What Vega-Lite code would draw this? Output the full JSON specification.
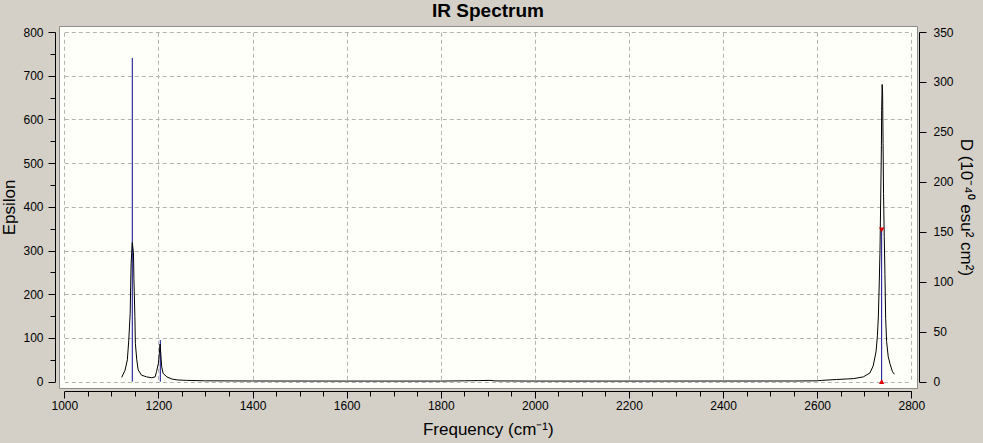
{
  "$schema": "https://vega.github.io/schema/vega-lite/v6.json",
  "width": 858,
  "height": 362,
  "autosize": "none",
  "padding": {"left": 59, "top": 26, "right": 66, "bottom": 55},
  "background": "#d4d0c8",
  "title": {"text": "IR Spectrum", "font": "Liberation Sans", "fontSize": 19, "fontWeight": "bold", "color": "#000000", "anchor": "middle", "offset": 5.5},
  "config": {
    "view": {"fill": "#fffffa", "stroke": "#8c8c8c", "strokeWidth": 1},
    "axis": {
      "labelFont": "Liberation Sans", "labelFontSize": 12, "labelColor": "#000000",
      "titleFont": "Liberation Sans", "titleFontSize": 17, "titleFontWeight": "normal", "titleColor": "#000000",
      "domainColor": "#000000", "tickColor": "#000000", "domainWidth": 1, "tickWidth": 1,
      "gridColor": "#b4b4b4", "gridDash": [4, 3], "gridWidth": 1
    }
  },
  "encoding": {
    "x": {
      "field": "f", "type": "quantitative",
      "scale": {"domain": [1000, 2800], "range": [5.3, 852.3], "nice": false, "zero": false},
      "axis": {
        "title": "Frequency (cm⁻¹)", "offset": 3, "grid": true,
        "values": [1000,1050,1100,1150,1200,1250,1300,1350,1400,1450,1500,1550,1600,1650,1700,1750,1800,1850,1900,1950,2000,2050,2100,2150,2200,2250,2300,2350,2400,2450,2500,2550,2600,2650,2700,2750,2800],
        "format": "d",
        "labelExpr": "datum.value % 200 === 0 ? datum.label : ''",
        "tickSize": {"condition": {"test": "datum.value % 200 === 0", "value": 7}, "value": 5},
        "gridOpacity": {"condition": {"test": "datum.value % 200 === 0", "value": 1}, "value": 0},
        "labelPadding": 2, "titlePadding": 10, "labelFlush": false, "labelOverlap": false
      }
    }
  },
  "layer": [
    {
      "data": {"values": [
        {"f": 1144.5, "D": 324},
        {"f": 1204, "D": 41.7},
        {"f": 2737, "D": 152}
      ]},
      "mark": {"type": "rule", "color": "#0a0a90", "strokeWidth": 1},
      "encoding": {
        "y": {
          "field": "D", "type": "quantitative",
          "scale": {"domain": [0, 350], "range": [355.7, 6], "nice": false},
          "axis": {
            "orient": "right", "title": "D (10⁻⁴⁰ esu² cm²)", "offset": 2, "grid": false,
            "values": [0, 50, 100, 150, 200, 250, 300, 350], "tickSize": 7, "labelPadding": 7, "titlePadding": 3, "labelFlush": false, "labelOverlap": false
          }
        },
        "y2": {"datum": 0}
      }
    },
    {
      "data": {"values": [
        {"f": 1122, "eps": 10}, {"f": 1129, "eps": 26}, {"f": 1134, "eps": 50}, {"f": 1137, "eps": 95},
        {"f": 1140, "eps": 157}, {"f": 1141, "eps": 217}, {"f": 1142, "eps": 271}, {"f": 1144.5, "eps": 318},
        {"f": 1147, "eps": 295}, {"f": 1148, "eps": 233}, {"f": 1150, "eps": 149}, {"f": 1151, "eps": 88},
        {"f": 1154, "eps": 50}, {"f": 1157, "eps": 27}, {"f": 1164, "eps": 15}, {"f": 1175, "eps": 11},
        {"f": 1186, "eps": 9}, {"f": 1193, "eps": 11}, {"f": 1196, "eps": 23}, {"f": 1200, "eps": 42},
        {"f": 1202, "eps": 65}, {"f": 1203.5, "eps": 86}, {"f": 1205, "eps": 65}, {"f": 1207, "eps": 34},
        {"f": 1210, "eps": 19}, {"f": 1218, "eps": 11}, {"f": 1229, "eps": 6}, {"f": 1240, "eps": 4},
        {"f": 1260, "eps": 3}, {"f": 1300, "eps": 2}, {"f": 1400, "eps": 1.6}, {"f": 1600, "eps": 1.4},
        {"f": 1800, "eps": 1.4}, {"f": 1850, "eps": 2}, {"f": 1880, "eps": 2.5}, {"f": 1905, "eps": 3},
        {"f": 1915, "eps": 1.8}, {"f": 2000, "eps": 1.4}, {"f": 2200, "eps": 1.4}, {"f": 2400, "eps": 1.5},
        {"f": 2550, "eps": 1.6}, {"f": 2600, "eps": 2}, {"f": 2610, "eps": 3}, {"f": 2641, "eps": 5},
        {"f": 2677, "eps": 7}, {"f": 2698, "eps": 11}, {"f": 2712, "eps": 20}, {"f": 2719, "eps": 36},
        {"f": 2725, "eps": 68}, {"f": 2728, "eps": 105}, {"f": 2730, "eps": 150}, {"f": 2732, "eps": 230},
        {"f": 2733.5, "eps": 300}, {"f": 2735, "eps": 420}, {"f": 2736.5, "eps": 540}, {"f": 2737, "eps": 620},
        {"f": 2738, "eps": 680}, {"f": 2739, "eps": 660}, {"f": 2740, "eps": 545}, {"f": 2741, "eps": 431},
        {"f": 2742.5, "eps": 332}, {"f": 2744, "eps": 245}, {"f": 2745.5, "eps": 145}, {"f": 2747.5, "eps": 92},
        {"f": 2751, "eps": 57}, {"f": 2755, "eps": 40}, {"f": 2760, "eps": 23}, {"f": 2764, "eps": 17}
      ]},
      "mark": {"type": "line", "color": "#000000", "strokeWidth": 1},
      "encoding": {
        "y": {
          "field": "eps", "type": "quantitative",
          "scale": {"domain": [0, 800], "range": [355.7, 6], "nice": false},
          "axis": {
            "orient": "left", "title": "Epsilon", "offset": 4, "grid": true,
            "values": [0,50,100,150,200,250,300,350,400,450,500,550,600,650,700,750,800],
            "labelExpr": "datum.value % 100 === 0 ? datum.label : ''",
            "tickSize": {"condition": {"test": "datum.value % 100 === 0", "value": 7}, "value": 5},
            "gridOpacity": {"condition": {"test": "datum.value % 100 === 0", "value": 1}, "value": 0},
            "labelPadding": 5, "titlePadding": 4, "labelFlush": false, "labelOverlap": false
          }
        }
      }
    },
    {
      "data": {"values": [
        {"f": 2737, "D": 0, "s": "up"},
        {"f": 2737, "D": 152, "s": "down"}
      ]},
      "mark": {"type": "point", "filled": true, "color": "#e00000", "opacity": 1, "size": 30},
      "encoding": {
        "y": {
          "field": "D", "type": "quantitative",
          "scale": {"domain": [0, 350], "range": [355.7, 6], "nice": false},
          "axis": null
        },
        "shape": {"field": "s", "type": "nominal", "scale": {"domain": ["up", "down"], "range": ["triangle-up", "triangle-down"]}, "legend": null}
      }
    }
  ],
  "resolve": {"scale": {"y": "independent"}}
}
